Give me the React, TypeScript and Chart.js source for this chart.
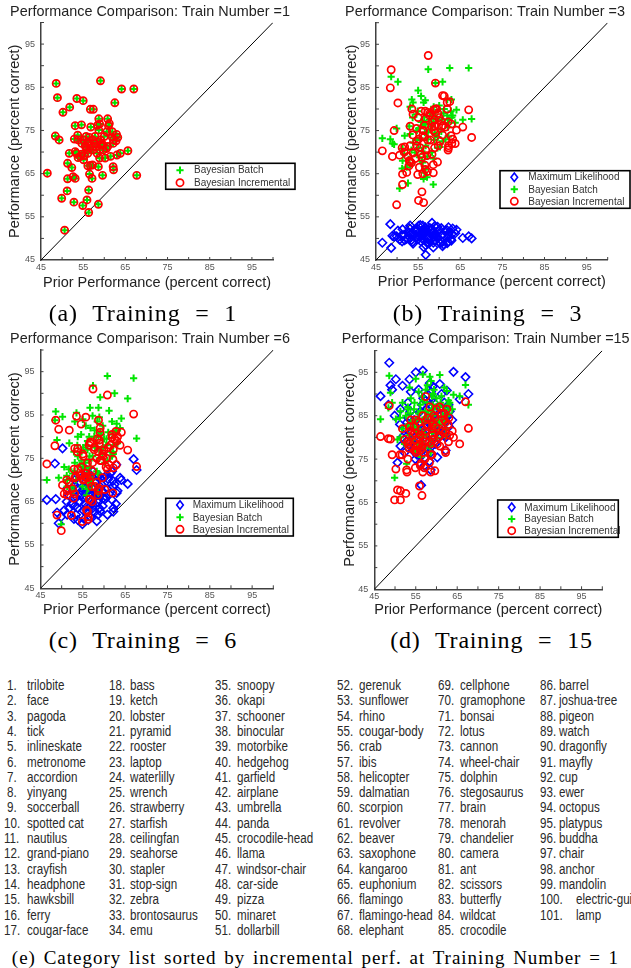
import React, { useEffect, useRef } from 'react';
import { Chart, registerables } from 'chart.js';

Chart.register(...registerables);

// ---------------- DATA ----------------
const CATEGORIES = [
  'trilobite', 'face', 'pagoda', 'tick', 'inlineskate', 'metronome', 'accordion', 'yinyang', 'soccerball', 'spotted cat',
  'nautilus', 'grand-piano', 'crayfish', 'headphone', 'hawksbill', 'ferry', 'cougar-face', 'bass', 'ketch', 'lobster',
  'pyramid', 'rooster', 'laptop', 'waterlilly', 'wrench', 'strawberry', 'starfish', 'ceilingfan', 'seahorse', 'stapler',
  'stop-sign', 'zebra', 'brontosaurus', 'emu', 'snoopy', 'okapi', 'schooner', 'binocular', 'motorbike', 'hedgehog',
  'garfield', 'airplane', 'umbrella', 'panda', 'crocodile-head', 'llama', 'windsor-chair', 'car-side', 'pizza', 'minaret',
  'dollarbill', 'gerenuk', 'sunflower', 'rhino', 'cougar-body', 'crab', 'ibis', 'helicopter', 'dalmatian', 'scorpion',
  'revolver', 'beaver', 'saxophone', 'kangaroo', 'euphonium', 'flamingo', 'flamingo-head', 'elephant', 'cellphone', 'gramophone',
  'bonsai', 'lotus', 'cannon', 'wheel-chair', 'dolphin', 'stegosaurus', 'brain', 'menorah', 'chandelier', 'camera',
  'ant', 'scissors', 'butterfly', 'wildcat', 'crocodile', 'barrel', 'joshua-tree', 'pigeon', 'watch', 'dragonfly',
  'mayfly', 'cup', 'ewer', 'octopus', 'platypus', 'buddha', 'chair', 'anchor', 'mandolin', 'electric-guitar',
  'lamp',
];

// Prior performance (x) per category
const PRIOR = [
  48.6, 59.1, 64.1, 67.0, 48.9, 53.5, 55.0, 62.5, 51.8, 50.2,
  56.7, 57.4, 58.7, 60.8, 58.9, 61.0, 53.1, 54.6, 56.8, 58.7,
  48.4, 49.3, 53.7, 52.9, 60.6, 61.9, 62.9, 62.2, 55.1, 56.1,
  57.3, 58.3, 59.1, 55.5, 56.8, 57.9, 59.7, 60.8, 62.1, 55.9,
  58.9, 60.5, 51.7, 53.4, 54.3, 55.3, 58.3, 60.2, 63.0, 63.8,
  65.6, 51.3, 52.3, 53.8, 56.1, 56.7, 58.6, 62.1, 62.2, 46.5,
  52.6, 53.1, 51.3, 59.6, 57.1, 56.5, 67.7, 51.2, 56.3, 49.9,
  52.8, 55.9, 54.9, 58.6, 56.3, 50.6, 54.7, 56.5, 57.8, 59.4,
  55.7, 60.0, 57.3, 55.1, 58.9, 61.5, 56.1, 57.7, 59.1, 53.8,
  63.2, 61.9, 61.2, 53.1, 62.8, 56.6, 54.7, 57.2, 58.4, 55.7,
  59.8,
];

// Train number = 1 (batch and incremental coincide)
const T1_INC = [
  85.9, 86.5, 84.6, 84.6, 82.6, 82.4, 81.9, 81.4, 80.4, 79.2,
  79.9, 79.9, 77.7, 77.7, 76.5, 76.1, 76.1, 76.3, 75.8, 75.1,
  73.7, 72.8, 73.9, 73.0, 74.7, 74.7, 74.1, 72.8, 72.8, 72.4,
  72.8, 72.4, 72.8, 71.4, 71.4, 71.3, 71.6, 71.3, 72.0, 70.5,
  70.6, 70.8, 69.7, 69.7, 69.0, 69.2, 69.7, 68.6, 69.3, 69.7,
  70.3, 67.4, 66.4, 68.7, 66.8, 66.9, 66.6, 66.6, 65.9, 65.1,
  64.3, 63.9, 63.8, 64.6, 63.9, 64.9, 64.6, 61.0, 61.2, 59.3,
  58.4, 58.9, 57.6, 57.9, 56.0, 51.9, 72.0, 73.4, 73.6, 72.0,
  73.6, 73.6, 70.5, 68.2, 68.6, 69.0, 69.7, 72.0, 71.6, 72.8,
  73.4, 73.4, 76.6, 70.1, 72.6, 70.9, 69.5, 67.0, 76.2, 71.1,
  70.5,
];
const T1_BATCH = [...T1_INC];

// Train number = 3
const T3_ML = [
  47.8, 50.6, 52.0, 50.5, 50.6, 51.2, 49.8, 51.5, 49.6, 51.8,
  52.3, 50.0, 51.6, 49.2, 52.8, 48.6, 50.2, 51.7, 46.2, 50.3,
  53.3, 50.4, 49.2, 52.4, 50.8, 51.9, 49.5, 52.6, 52.9, 50.7,
  49.1, 53.6, 51.1, 53.1, 48.4, 51.9, 50.2, 48.2, 50.9, 51.4,
  49.4, 52.4, 50.9, 49.6, 51.8, 50.4, 52.2, 48.9, 51.0, 51.2,
  50.1, 52.1, 49.9, 48.8, 51.0, 52.6, 47.9, 49.2, 50.3, 49.0,
  51.5, 53.0, 50.6, 52.7, 49.9, 51.6, 50.0, 49.3, 48.0, 50.5,
  51.2, 50.0, 52.2, 49.0, 51.3, 49.7, 50.5, 51.4, 52.4, 50.4,
  49.3, 52.0, 48.8, 51.3, 50.9, 51.8, 53.0, 50.2, 49.6, 50.8,
  52.3, 48.9, 50.6, 51.0, 49.8, 52.0, 50.1, 49.2, 51.5, 50.6,
  51.7,
];
const T3_BATCH = [
  87.5, 86.0, 79.8, 89.5, 72.0, 82.2, 84.3, 89.5, 73.8, 86.3,
  82.0, 89.2, 80.5, 86.3, 78.2, 79.0, 80.5, 78.8, 76.5, 77.0,
  73.0, 71.8, 78.0, 76.0, 77.5, 78.5, 82.2, 76.8, 75.5, 77.2,
  74.6, 76.0, 74.0, 73.2, 71.5, 75.2, 73.5, 72.5, 75.8, 70.2,
  72.8, 74.8, 69.5, 70.5, 69.9, 68.8, 70.0, 71.2, 78.0, 76.8,
  77.5, 68.0, 66.5, 72.2, 67.6, 66.0, 68.5, 77.5, 73.6, 73.2,
  62.8, 67.0, 70.8, 71.0, 64.2, 65.2, 77.7, 66.2, 63.8, 75.5,
  68.3, 67.9, 79.5, 62.5, 81.5, 61.6, 75.0, 78.2, 79.0, 77.8,
  83.0, 80.8, 73.0, 71.0, 74.4, 73.0, 76.2, 77.5, 79.2, 81.5,
  78.5, 82.2, 80.0, 74.2, 79.5, 74.5, 72.8, 69.0, 78.5, 77.0,
  75.5,
];
const T3_INC = [
  89.1, 86.0, 75.1, 79.8, 69.0, 80.0, 78.0, 81.7, 71.2, 81.4,
  79.5, 92.4, 79.8, 83.1, 77.5, 76.2, 76.0, 75.5, 77.8, 75.0,
  84.9, 75.0, 74.0, 68.0, 76.0, 80.0, 76.5, 71.0, 73.0, 73.8,
  79.2, 75.8, 74.5, 71.0, 70.5, 72.8, 79.0, 74.0, 77.0, 68.8,
  71.0, 77.2, 70.0, 67.5, 68.5, 66.5, 69.5, 72.5, 72.0, 72.0,
  75.8, 64.9, 65.3, 69.8, 65.0, 66.0, 67.1, 70.5, 71.5, 70.3,
  69.0, 67.8, 62.5, 67.7, 69.2, 73.5, 73.4, 71.0, 75.0, 57.8,
  66.8, 60.8, 64.8, 65.2, 58.3, 69.3, 71.5, 76.2, 79.0, 80.0,
  79.5, 78.0, 72.8, 58.8, 76.0, 75.8, 75.0, 78.5, 80.0, 78.8,
  73.0, 81.5, 83.0, 71.5, 73.8, 67.0, 72.5, 65.5, 77.0, 69.5,
  71.5,
];

// Train number = 6
const T6_ML = [
  65.6, 70.5, 70.0, 74.8, 62.5, 66.0, 68.5, 69.0, 63.5, 77.3,
  67.0, 72.0, 65.5, 68.0, 71.0, 70.2, 64.0, 66.5, 65.0, 67.8,
  73.8, 60.0, 68.0, 61.0, 66.0, 65.4, 73.5, 62.7, 63.0, 69.0,
  63.5, 66.5, 62.8, 64.5, 61.5, 69.5, 64.0, 62.0, 68.5, 66.0,
  63.5, 71.0, 66.5, 62.0, 65.0, 61.0, 60.5, 65.5, 67.0, 70.5,
  69.1, 68.0, 64.5, 60.8, 62.5, 70.0, 64.8, 69.8, 63.5, 65.4,
  67.2, 70.0, 62.0, 67.5, 66.8, 63.8, 72.3, 65.0, 67.5, 61.5,
  66.0, 63.0, 59.8, 62.0, 60.8, 63.0, 70.5, 71.5, 67.0, 69.0,
  72.5, 70.5, 68.0, 65.8, 66.5, 71.5, 64.0, 62.5, 68.5, 63.5,
  67.5, 72.0, 66.8, 68.8, 64.5, 69.0, 67.5, 64.5, 70.8, 67.0,
  65.8,
];
const T6_BATCH = [
  85.8, 89.1, 84.2, 93.5, 79.2, 85.5, 84.0, 90.0, 78.5, 84.6,
  86.7, 91.8, 86.7, 94.0, 84.5, 81.0, 83.5, 80.5, 82.0, 80.0,
  83.8, 70.5, 78.0, 76.5, 79.5, 83.5, 81.5, 76.0, 77.5, 79.0,
  84.8, 78.5, 76.8, 74.0, 73.0, 77.5, 82.5, 74.5, 80.5, 72.5,
  75.0, 78.0, 72.5, 70.0, 73.5, 71.0, 72.0, 74.0, 83.0, 82.0,
  88.8, 70.0, 68.5, 75.5, 68.0, 70.5, 71.5, 76.5, 78.0, 70.0,
  71.5, 74.0, 68.5, 76.0, 70.0, 74.5, 79.6, 71.0, 69.5, 59.8,
  67.5, 66.5, 68.5, 67.0, 68.0, 73.0, 76.5, 80.0, 81.5, 80.5,
  82.5, 79.5, 75.5, 73.0, 77.0, 76.5, 77.0, 80.0, 81.0, 80.0,
  78.5, 75.5, 86.0, 72.0, 81.0, 75.5, 74.5, 69.0, 83.5, 78.0,
  77.5,
];
const T6_INC = [
  83.8, 81.0, 81.0, 85.2, 61.9, 84.7, 76.0, 79.5, 81.5, 68.8,
  78.5, 91.0, 83.8, 89.6, 79.2, 77.5, 77.3, 82.9, 78.8, 76.5,
  77.9, 81.7, 76.5, 72.5, 75.0, 79.8, 73.5, 77.0, 75.5, 70.5,
  74.0, 75.0, 74.5, 70.8, 71.0, 68.5, 76.0, 72.5, 74.8, 70.5,
  68.0, 73.0, 69.5, 70.8, 71.0, 70.2, 69.5, 67.8, 79.0, 78.0,
  76.9, 66.5, 61.8, 72.5, 62.8, 65.5, 67.5, 67.0, 72.8, 73.7,
  68.0, 66.8, 67.5, 70.5, 68.5, 65.5, 73.1, 70.0, 60.9, 58.3,
  65.8, 63.0, 60.4, 66.5, 61.5, 66.8, 71.2, 78.0, 77.5, 74.5,
  84.5, 76.8, 72.0, 70.0, 78.5, 78.0, 74.0, 77.0, 82.0, 77.3,
  80.0, 80.5, 73.5, 70.5, 81.2, 69.5, 73.0, 65.0, 79.5, 71.5,
  75.5,
];

// Train number = 15
const T15_ML = [
  97.2, 91.7, 95.1, 93.9, 92.0, 93.4, 95.0, 90.8, 91.9, 93.4,
  95.4, 88.5, 90.5, 92.3, 87.0, 86.5, 88.0, 84.0, 89.0, 84.5,
  87.5, 91.0, 86.0, 83.5, 85.5, 82.0, 87.5, 80.0, 82.5, 86.0,
  84.0, 80.5, 82.0, 79.5, 81.0, 83.5, 78.5, 80.5, 84.5, 77.5,
  78.0, 81.5, 80.0, 78.5, 77.0, 76.0, 74.5, 75.4, 82.5, 84.0,
  88.8, 78.0, 76.5, 81.0, 75.5, 78.0, 76.5, 80.5, 77.0, 89.5,
  82.0, 80.5, 86.5, 79.0, 73.5, 77.0, 90.0, 83.0, 69.0, 85.0,
  79.0, 74.0, 75.0, 72.5, 76.0, 74.2, 85.0, 87.5, 90.0, 88.0,
  91.0, 86.0, 80.0, 78.5, 83.0, 81.0, 83.0, 86.5, 89.0, 90.5,
  86.0, 88.0, 90.0, 84.5, 85.0, 82.0, 80.0, 77.5, 92.5, 81.5,
  84.0,
];
const T15_BATCH = [
  94.2, 90.0, 89.8, 92.1, 90.3, 91.5, 93.5, 90.7, 88.0, 84.2,
  94.5, 91.0, 93.0, 94.4, 89.5, 88.0, 87.0, 86.5, 88.5, 86.0,
  86.8, 88.0, 85.5, 82.5, 87.0, 84.5, 88.5, 82.0, 84.0, 87.5,
  86.0, 83.5, 85.0, 82.0, 83.5, 85.5, 81.5, 83.0, 86.5, 80.5,
  81.0, 84.0, 82.0, 80.5, 79.5, 78.5, 78.0, 80.0, 85.5, 86.5,
  89.5, 80.0, 78.5, 83.5, 79.0, 81.0, 79.5, 83.5, 80.5, 84.2,
  85.0, 83.0, 86.0, 82.5, 77.5, 80.5, 87.5, 84.5, 75.5, 70.7,
  73.9, 78.0, 77.0, 76.5, 79.0, 79.5, 88.0, 89.5, 92.0, 91.0,
  90.5, 89.0, 84.5, 81.5, 86.5, 85.0, 86.0, 88.0, 87.5, 89.0,
  88.0, 91.5, 89.5, 86.5, 87.5, 84.0, 82.5, 80.5, 94.0, 85.5,
  87.0,
];
const T15_INC = [
  87.3, 83.0, 80.0, 88.2, 79.6, 82.5, 84.0, 86.5, 82.0, 72.7,
  85.0, 89.4, 84.0, 87.0, 81.0, 80.5, 79.0, 82.5, 80.0, 78.5,
  79.7, 76.0, 78.0, 72.0, 82.0, 85.5, 79.0, 76.5, 79.5, 77.0,
  81.5, 79.0, 80.5, 78.0, 76.5, 82.5, 84.5, 78.0, 81.0, 78.5,
  76.0, 80.0, 76.0, 77.5, 80.5, 77.0, 74.2, 78.5, 84.5, 81.5,
  78.5, 67.7, 79.5, 81.5, 73.5, 72.0, 76.0, 77.0, 83.5, 80.2,
  67.1, 75.0, 65.6, 72.3, 73.0, 66.6, 82.1, 76.0, 74.0, 65.6,
  72.5, 68.8, 73.0, 72.0, 77.5, 67.9, 81.0, 82.0, 84.5, 85.0,
  83.5, 86.5, 79.0, 76.5, 82.0, 81.5, 80.5, 83.0, 79.5, 84.0,
  80.5, 84.0, 85.5, 78.5, 83.0, 78.0, 77.0, 75.0, 87.0, 80.0,
  82.5,
];

const AXIS_MIN = 45;
const AXIS_MAX = 100;
const TICK_LABELS = [45, 55, 65, 75, 85, 95];

const LBL_ML = 'Maximum Likelihood';
const LBL_BATCH = 'Bayesian Batch';
const LBL_INC = 'Bayesian Incremental';

// ---------------- STYLE ----------------
const SANS = '"Liberation Sans", Arial, Helvetica, sans-serif';
const SERIF = '"Liberation Serif", "Times New Roman", Times, serif';
const BLUE = '#0000ff';
const GREEN = '#00e600';
const RED = '#ff0000';
const AXIS_COLOR = '#404040';

type Kind = 'ml' | 'batch' | 'inc';
type Series = { label: string; kind: Kind; values: number[] };
type Spec = {
  left: number; top: number; width: number; height: number;
  area: { left: number; top: number; right: number; bottom: number };
  title: string; titleX: number; titleY: number;
  yTitleX: number; xTitleY: number;
  legend: { x0: number; y0: number; x1: number; y1: number; rows: number[]; markerX: number; textX: number };
  series: Series[];
};

function drawMarker(ctx: CanvasRenderingContext2D, kind: Kind, x: number, y: number) {
  ctx.save();
  ctx.beginPath();
  if (kind === 'ml') {
    ctx.strokeStyle = BLUE; ctx.lineWidth = 1.6;
    ctx.moveTo(x, y - 4.2); ctx.lineTo(x + 3.3, y); ctx.lineTo(x, y + 4.2); ctx.lineTo(x - 3.3, y); ctx.closePath();
  } else if (kind === 'batch') {
    ctx.strokeStyle = GREEN; ctx.lineWidth = 2;
    ctx.moveTo(x - 3.6, y); ctx.lineTo(x + 3.6, y); ctx.moveTo(x, y - 3.6); ctx.lineTo(x, y + 3.6);
  } else {
    ctx.strokeStyle = RED; ctx.lineWidth = 1.7;
    ctx.arc(x, y, 3.6, 0, Math.PI * 2);
  }
  ctx.stroke();
  ctx.restore();
}

const decorPlugin = {
  id: 'decor',
  afterDraw(chart: any, _args: any, opts: any) {
    const ctx: CanvasRenderingContext2D = chart.ctx;
    const xs = chart.scales.x;
    const ys = chart.scales.y;
    ctx.save();
    // inward tick marks
    ctx.strokeStyle = AXIS_COLOR;
    ctx.lineWidth = 1;
    ctx.beginPath();
    for (let v = AXIS_MIN + 5; v <= AXIS_MAX; v += 5) {
      const px = xs.getPixelForValue(v);
      ctx.moveTo(px, ys.bottom); ctx.lineTo(px, ys.bottom - 3);
      const py = ys.getPixelForValue(v);
      ctx.moveTo(xs.left, py); ctx.lineTo(xs.left + 3, py);
    }
    ctx.stroke();
    // title
    ctx.font = '14.4px ' + SANS;
    ctx.fillStyle = '#222';
    ctx.textAlign = 'center';
    ctx.textBaseline = 'middle';
    ctx.fillText(opts.title, opts.titleX, opts.titleY);
    // legend
    const lg = opts.legend;
    ctx.fillStyle = '#fff';
    ctx.fillRect(lg.x0, lg.y0, lg.x1 - lg.x0, lg.y1 - lg.y0);
    ctx.strokeStyle = '#000';
    ctx.lineWidth = 1.6;
    ctx.strokeRect(lg.x0, lg.y0, lg.x1 - lg.x0, lg.y1 - lg.y0);
    const items = chart.data.datasets.filter((d: any) => d.kind);
    ctx.font = '10px ' + SANS;
    ctx.textAlign = 'left';
    items.forEach((d: any, i: number) => {
      const y = lg.rows[i];
      drawMarker(ctx, d.kind, lg.markerX, y);
      ctx.fillStyle = '#333';
      ctx.fillText(d.label, lg.textX, y + 0.5);
    });
    ctx.restore();
  },
};

function styleFor(kind: Kind) {
  if (kind === 'ml') return { pointStyle: 'rectRot', pointRadius: 4.2, borderColor: BLUE, pointBorderWidth: 1.6, order: 3 };
  if (kind === 'batch') return { pointStyle: 'cross', pointRadius: 3.6, borderColor: GREEN, pointBorderWidth: 2, order: 2 };
  return { pointStyle: 'circle', pointRadius: 3.6, borderColor: RED, pointBorderWidth: 1.7, order: 1 };
}

function Panel({ spec }: { spec: Spec }) {
  const ref = useRef<HTMLCanvasElement>(null);
  useEffect(() => {
    if (!ref.current) return;
    const { area, width, height } = spec;
    const yAxisW = 40;
    const padL = area.left - yAxisW;
    const xAxisH = height - area.bottom;
    const half = (14.5 * 1.2) / 2;
    const datasets: any[] = spec.series.map((s) => {
      const st = styleFor(s.kind);
      return {
        type: 'scatter',
        label: s.label,
        kind: s.kind,
        data: PRIOR.map((x, i) => ({ x, y: s.values[i] })),
        pointStyle: st.pointStyle,
        pointRadius: st.pointRadius,
        pointBorderWidth: st.pointBorderWidth,
        borderColor: st.borderColor,
        pointBorderColor: st.borderColor,
        backgroundColor: 'rgba(0,0,0,0)',
        pointBackgroundColor: 'rgba(0,0,0,0)',
        order: st.order,
      };
    });
    datasets.push({
      type: 'line',
      label: 'y = x',
      data: [{ x: AXIS_MIN, y: AXIS_MIN }, { x: AXIS_MAX, y: AXIS_MAX }],
      borderColor: '#000',
      borderWidth: 1,
      pointRadius: 0,
      fill: false,
      order: 10,
    });
    const tickCb = (v: any) => (TICK_LABELS.includes(Number(v)) ? String(v) : '');
    const chart = new Chart(ref.current, {
      type: 'scatter',
      data: { datasets },
      plugins: [decorPlugin],
      options: {
        animation: false,
        responsive: false,
        devicePixelRatio: 1,
        events: [],
        layout: { padding: { left: padL, top: area.top, right: width - area.right, bottom: 0 } },
        plugins: {
          legend: { display: false },
          tooltip: { enabled: false },
          title: { display: false },
          decor: { title: spec.title, titleX: spec.titleX, titleY: spec.titleY, legend: spec.legend },
        } as any,
        scales: {
          x: {
            type: 'linear', min: AXIS_MIN, max: AXIS_MAX,
            ticks: { stepSize: 5, autoSkip: false, maxRotation: 0, padding: 2, color: '#555', font: { family: SANS, size: 9 }, callback: tickCb },
            grid: { display: true, drawOnChartArea: false, drawTicks: false },
            border: { display: true, color: AXIS_COLOR, width: 1.5 },
            title: { display: true, text: 'Prior Performance (percent correct)', color: '#222', font: { family: SANS, size: 14.5 }, padding: { top: 0, bottom: Math.max(0, height - spec.xTitleY - half) } },
            afterFit: (s: any) => { s.height = xAxisH; s.paddingLeft = 0; s.paddingRight = 0; s.paddingTop = 0; s.paddingBottom = 0; },
          },
          y: {
            type: 'linear', min: AXIS_MIN, max: AXIS_MAX,
            ticks: { stepSize: 5, autoSkip: false, padding: 6, color: '#555', font: { family: SANS, size: 9 }, callback: tickCb },
            grid: { display: true, drawOnChartArea: false, drawTicks: false },
            border: { display: true, color: AXIS_COLOR, width: 1.5 },
            title: { display: true, text: 'Performance (percent correct)', color: '#222', font: { family: SANS, size: 14.5 }, padding: { top: Math.max(0, spec.yTitleX - padL - half), bottom: 0 } },
            afterFit: (s: any) => { s.width = yAxisW; s.paddingLeft = 0; s.paddingRight = 0; s.paddingTop = 0; s.paddingBottom = 0; },
          },
        } as any,
      },
    } as any);
    return () => chart.destroy();
  }, [spec]);
  return (
    <canvas
      ref={ref}
      width={spec.width}
      height={spec.height}
      style={{ position: 'absolute', left: spec.left, top: spec.top, width: spec.width, height: spec.height }}
    />
  );
}

const SPECS: Spec[] = [
  {
    left: 0, top: 0, width: 315, height: 300,
    area: { left: 41, top: 22.5, right: 273, bottom: 260 },
    title: 'Performance Comparison: Train Number =1', titleX: 150, titleY: 12,
    yTitleX: 15, xTitleY: 283,
    legend: { x0: 165.7, y0: 163.3, x1: 295, y1: 189.3, rows: [170.2, 182.7], markerX: 180, textX: 194 },
    series: [
      { label: LBL_BATCH, kind: 'batch', values: T1_BATCH },
      { label: LBL_INC, kind: 'inc', values: T1_INC },
    ],
  },
  {
    left: 315, top: 0, width: 316, height: 300,
    area: { left: 61, top: 22.7, right: 292.7, bottom: 260 },
    title: 'Performance Comparison: Train Number =3', titleX: 170, titleY: 12,
    yTitleX: 36.5, xTitleY: 282,
    legend: { x0: 185, y0: 170.7, x1: 315, y1: 208.3, rows: [177.2, 189.3, 201.3], markerX: 199.3, textX: 213.3 },
    series: [
      { label: LBL_ML, kind: 'ml', values: T3_ML },
      { label: LBL_BATCH, kind: 'batch', values: T3_BATCH },
      { label: LBL_INC, kind: 'inc', values: T3_INC },
    ],
  },
  {
    left: 0, top: 320, width: 315, height: 300,
    area: { left: 40.5, top: 30, right: 273.3, bottom: 268.3 },
    title: 'Performance Comparison: Train Number =6', titleX: 150, titleY: 19,
    yTitleX: 15, xTitleY: 290,
    legend: { x0: 165.7, y0: 178.3, x1: 293.3, y1: 216, rows: [185, 197.3, 209.3], markerX: 180, textX: 192.7 },
    series: [
      { label: LBL_ML, kind: 'ml', values: T6_ML },
      { label: LBL_BATCH, kind: 'batch', values: T6_BATCH },
      { label: LBL_INC, kind: 'inc', values: T6_INC },
    ],
  },
  {
    left: 315, top: 320, width: 316, height: 300,
    area: { left: 59.3, top: 30.6, right: 287.3, bottom: 269.3 },
    title: 'Performance Comparison: Train Number =15', titleX: 170.7, titleY: 19,
    yTitleX: 35, xTitleY: 290,
    legend: { x0: 182.7, y0: 180, x1: 303.3, y1: 217.3, rows: [187.3, 199, 210.7], markerX: 196.7, textX: 209.3 },
    series: [
      { label: LBL_ML, kind: 'ml', values: T15_ML },
      { label: LBL_BATCH, kind: 'batch', values: T15_BATCH },
      { label: LBL_INC, kind: 'inc', values: T15_INC },
    ],
  },
];

const CAPTIONS = [
  { text: '(a) Training = 1', cx: 143, cy: 313 },
  { text: '(b) Training = 3', cx: 487.5, cy: 313 },
  { text: '(c) Training = 6', cx: 143, cy: 640 },
  { text: '(d) Training = 15', cx: 491.5, cy: 640 },
];
const LIST_CAPTION = '(e) Category list sorted by incremental perf. at Training Number = 1';

const COL_LABEL_X = [7, 109, 215, 337, 438, 540];
const COL_NAME_X = [27, 130, 237, 359, 460, 559];
const ROWS_PER_COL = 17;
const ROW0 = 685;
const ROW_STEP = 15.31;

export default function App() {
  return (
    <div style={{ position: 'absolute', left: 0, top: 0, width: 631, height: 968, overflow: 'hidden', background: '#fff' }}>
      {SPECS.map((s, i) => <Panel key={i} spec={s} />)}
      {CAPTIONS.map((c, i) => (
        <div key={'c' + i} style={{ position: 'absolute', left: c.cx - 150, width: 300, top: c.cy - 15, height: 30, lineHeight: '30px', textAlign: 'center', fontFamily: SERIF, fontSize: 24, letterSpacing: 0.8, wordSpacing: 8, color: '#000', whiteSpace: 'nowrap' }}>{c.text}</div>
      ))}
      {CATEGORIES.map((name, i) => {
        const col = Math.floor(i / ROWS_PER_COL);
        const row = i % ROWS_PER_COL;
        const num = i + 1;
        let lx = COL_LABEL_X[col];
        let nx = COL_NAME_X[col];
        if (col === 0 && num >= 10) lx = 4;
        if (num >= 100) nx = 576;
        const top = ROW0 + row * ROW_STEP - 8;
        const st: React.CSSProperties = { position: 'absolute', top, height: 16, lineHeight: '16px', fontFamily: SANS, fontSize: 14, color: '#2a2a2a', whiteSpace: 'nowrap', transform: 'scaleX(0.83)', transformOrigin: 'left center' };
        return (
          <React.Fragment key={'n' + i}>
            <span style={{ ...st, left: lx }}>{num + '.'}</span>
            <span style={{ ...st, left: nx }}>{name}</span>
          </React.Fragment>
        );
      })}
      <div style={{ position: 'absolute', left: 0, width: 631, top: 958 - 11, height: 22, lineHeight: '22px', textAlign: 'center', fontFamily: SERIF, fontSize: 19, letterSpacing: 1.0, wordSpacing: 2, color: '#000', whiteSpace: 'nowrap' }}>{LIST_CAPTION}</div>
    </div>
  );
}
